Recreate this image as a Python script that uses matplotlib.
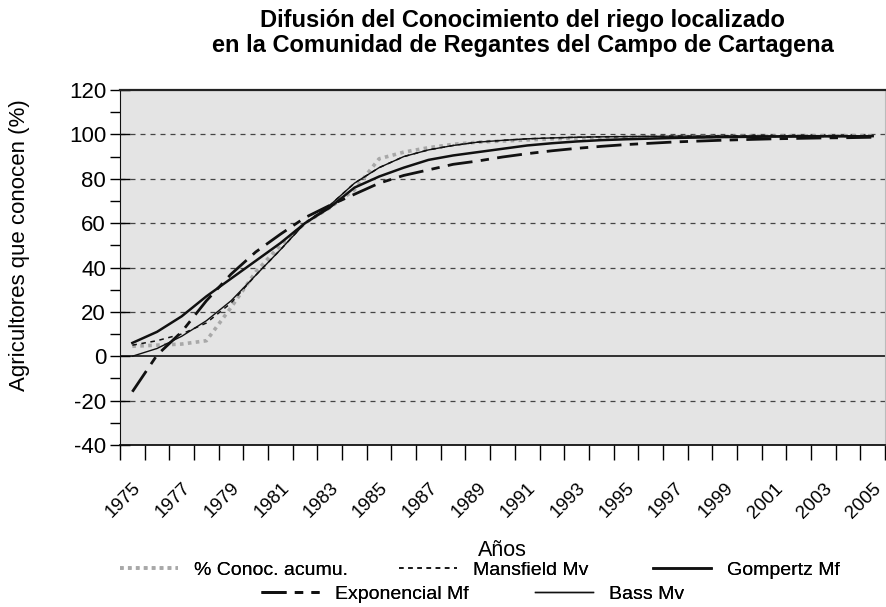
import matplotlib
matplotlib.use("Agg")
import matplotlib.pyplot as plt
import numpy as np

years = list(range(1975, 2006))
conoc = [4.5, 5, 5.5, 7, 22, 38, 50, 60, 67, 75, 89, 92, 94, 95.5, 96.5, 97, 97.5, 98, 98.3, 98.5,
         98.7, 98.8, 99, 99, 99.1, 99.2, 99.2, 99.3, 99.3, 99.4, 99.4]
mansfield = [5, 7, 10, 15, 24, 36.5, 48, 60, 68, 78, 85, 90, 93, 95, 96.5, 97.3, 98, 98.4, 98.7, 98.9,
             99, 99.1, 99.2, 99.2, 99.3, 99.3, 99.3, 99.4, 99.4, 99.4, 99.4]
gompertz = [6, 11, 18, 27, 35, 43, 51, 60, 67, 76, 81, 85, 88.5, 90.5, 92, 93.5, 95, 96, 96.8, 97.4,
            97.8, 98.1, 98.4, 98.6, 98.8, 98.9, 99, 99, 99.1, 99.1, 99.2]
exponencial = [-16, 0.5, 11, 25, 37, 47, 55, 62.5, 68, 73, 78, 81.5, 84, 86.5, 88, 89.8, 91.3, 92.6,
               93.7, 94.6, 95.4, 96, 96.6, 97, 97.4, 97.7, 98, 98.2, 98.4, 98.5, 98.7]
bass = [0, 3.5, 9, 16, 25, 36.5, 48, 60, 68, 78, 85, 90, 93, 95, 96.5, 97.3, 98, 98.4, 98.7, 98.9,
        99, 99.1, 99.2, 99.2, 99.3, 99.3, 99.3, 99.4, 99.4, 99.4, 99.4]
labels = ["% Conoc. acumu.", "Mansfield Mv", "Gompertz Mf", "Exponencial Mf", "Bass Mv"]

plt.rcParams['font.family'] = ['Liberation Sans', 'DejaVu Sans']
plt.rcParams['axes.unicode_minus'] = False

W, H = 887, 607
fig = plt.figure(figsize=(W / 100, H / 100), dpi=100)
ax = fig.add_axes([120 / W, 1 - 445 / H, 765 / W, 355 / H])
ax.set_facecolor('#e4e4e4')

x = np.arange(len(years))

styles = {
    labels[0]: dict(color='#a8a8a8', lw=2.6, ls=(0, (1, 1.2))),
    labels[1]: dict(color='#111111', lw=1.1, ls=(0, (3, 3))),
    labels[2]: dict(color='#111111', lw=1.8, ls='-'),
    labels[3]: dict(color='#111111', lw=2.0, ls=(0, (9, 3, 3, 3))),
    labels[4]: dict(color='#111111', lw=1.0, ls='-'),
}

ax.set_ylim(-40, 120)
ax.set_xlim(-0.5, len(years) - 0.5)

for yv in [-20, 20, 40, 60, 80, 100]:
    ax.axhline(yv, color='#444444', lw=0.9, ls=(0, (4, 4)), zorder=1)
ax.axhline(0, color='#111111', lw=1.2, zorder=1)

series = [conoc, mansfield, gompertz, exponencial, bass]
handles = []
for lab, s in zip(labels, series):
    h, = ax.plot(x, s, label=lab, zorder=3, **styles[lab])
    handles.append(h)

ax.spines['top'].set_color('#222222')
ax.spines['top'].set_linewidth(1.6)
ax.spines['right'].set_color('#bbbbbb')
ax.spines['left'].set_color('#111111')
ax.spines['bottom'].set_color('#111111')
ax.spines['bottom'].set_linewidth(1.3)

ax.set_yticks(np.arange(-40, 121, 20))
ax.set_yticks(np.arange(-30, 120, 20), minor=True)
ax.tick_params(axis='y', which='major', direction='inout', length=14, width=1, labelsize=16, pad=3)
ax.tick_params(axis='y', which='minor', direction='out', length=7, width=1)

ax.set_xticks(np.arange(-0.5, len(years), 1.0))
ax.set_xticklabels([])
ax.tick_params(axis='x', which='major', direction='out', length=11, width=1)
ax.set_xticks(x[::2], minor=True)
ax.set_xticklabels([str(y) for y in years[::2]], minor=True, rotation=45, ha='right',
                   rotation_mode='anchor', fontsize=13.5)
ax.tick_params(axis='x', which='minor', length=0, pad=25)

ax.set_xlabel('Años', fontsize=15.5)
ax.xaxis.set_label_coords(0.5, -0.268)
ax.set_ylabel('Agricultores que conocen (%)', fontsize=16)
ax.yaxis.set_label_coords(-0.118, 0.563)

fig.text(0.589, 1 - 33 / H, 'Difusión del Conocimiento del riego localizado\nen la Comunidad de Regantes del Campo de Cartagena',
         ha='center', va='center', fontsize=17, fontweight='bold', linespacing=1.12)

# legend entries: handle start x (px), row y (px)
leg_pos = [(120, 570), (399, 570), (653, 570), (261, 594), (535, 594)]
for h, lab, (px, py) in zip(handles, labels, leg_pos):
    lg = fig.legend([h], [lab], loc='center left', bbox_to_anchor=(px / W, 1 - py / H),
                    frameon=False, fontsize=14, handlelength=3.0, handletextpad=0.8,
                    borderpad=0, borderaxespad=0)
    fig.add_artist(lg)

fig.savefig('out.png', dpi=100, facecolor='white')
